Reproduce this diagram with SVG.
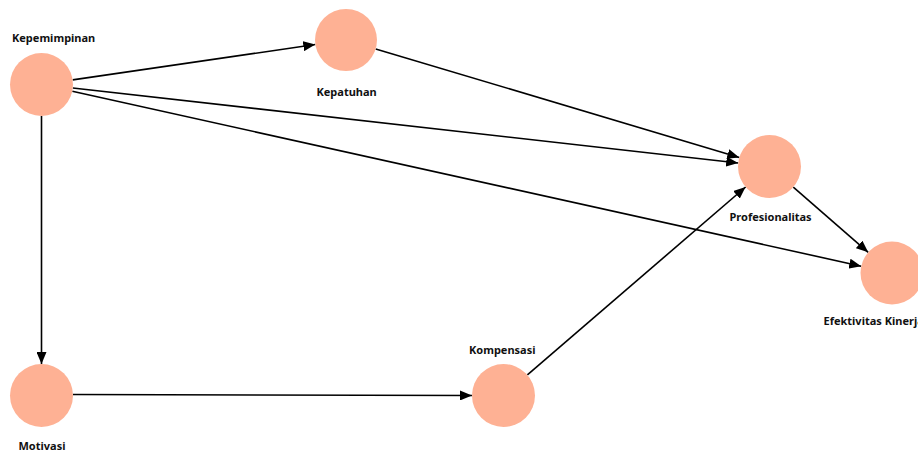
<svg xmlns="http://www.w3.org/2000/svg" width="918" height="453" viewBox="0 0 918 453">
<style>
.node{fill:#FEB194;stroke:none}
.lbl{font-family:"Noto Sans","Open Sans","DejaVu Sans",sans-serif;font-weight:700;font-size:11px;fill:#111}
.edge{stroke:#000;stroke-width:1.6;fill:none;marker-end:url(#arr)}
</style>
<defs>
<marker id="arr" markerUnits="userSpaceOnUse" markerWidth="12" markerHeight="10" refX="12" refY="5" orient="auto">
<path d="M0,0 L12,5 L0,10 Z" fill="#000"/>
</marker>
</defs>
<rect width="918" height="453" fill="#fff"/>
<g id="connectors">
<line class="edge" x1="72.7" y1="79.9" x2="315.3" y2="44.5"/>
<line class="edge" x1="72.8" y1="88" x2="738.2" y2="163"/>
<line class="edge" x1="72.3" y1="91.3" x2="861.2" y2="266.2"/>
<line class="edge" x1="41.5" y1="116" x2="41.5" y2="364"/>
<line class="edge" x1="375.7" y1="48.9" x2="739.3" y2="157.5"/>
<line class="edge" x1="73" y1="394.5" x2="472" y2="395.5"/>
<line class="edge" x1="527.4" y1="374.9" x2="745.6" y2="187"/>
<line class="edge" x1="793.3" y1="187.2" x2="868.2" y2="252.3"/>
</g>
<g id="kepemimpinan">
<circle class="node" cx="41.5" cy="84.5" r="31.5"/>
<text class="lbl" x="12" y="42">Kepemimpinan</text>
</g>
<g id="kepatuhan">
<circle class="node" cx="346" cy="40" r="31"/>
<text class="lbl" x="316.5" y="96">Kepatuhan</text>
</g>
<g id="profesionalitas">
<circle class="node" cx="769.5" cy="166.5" r="31.5"/>
<text class="lbl" x="729.5" y="221">Profesionalitas</text>
</g>
<g id="efektivitas-kinerja">
<circle class="node" cx="892" cy="273" r="31.5"/>
<text class="lbl" x="823.5" y="325">Efektivitas Kinerja</text>
</g>
<g id="motivasi">
<circle class="node" cx="41.5" cy="395.5" r="31.5"/>
<text class="lbl" x="18.5" y="450">Motivasi</text>
</g>
<g id="kompensasi">
<circle class="node" cx="503.5" cy="395.5" r="31.5"/>
<text class="lbl" x="469" y="354">Kompensasi</text>
</g>
</svg>
